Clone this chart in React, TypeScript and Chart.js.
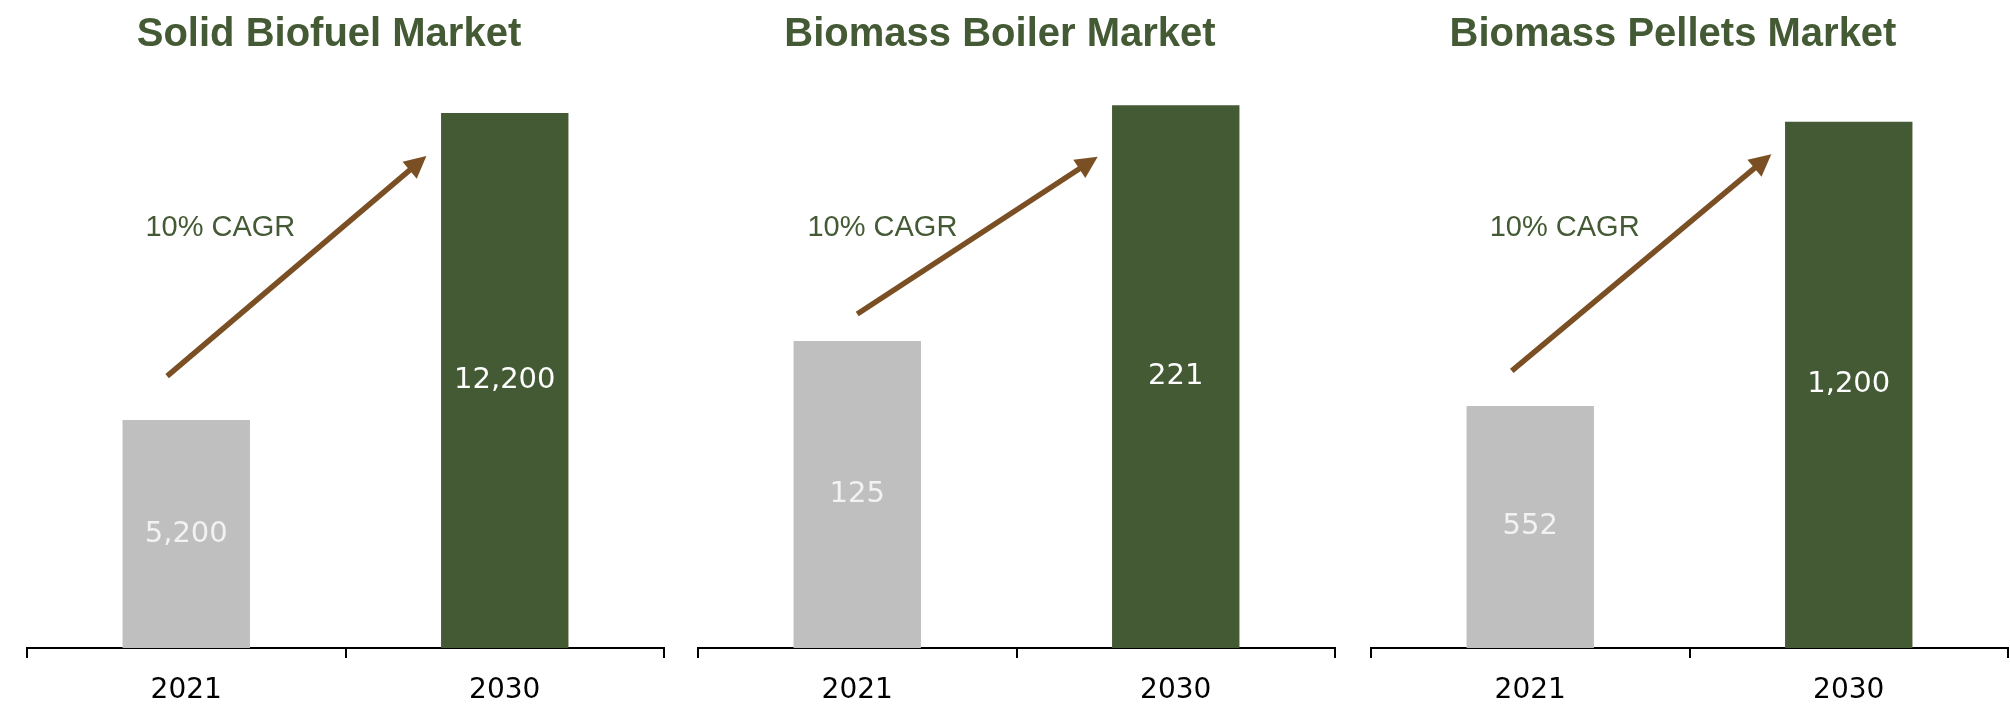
import React, { useEffect, useRef } from "react";
import { Chart, registerables } from "chart.js";

Chart.register(...registerables);

const categories = ["2021", "2030"];
const titles = ["Solid Biofuel Market", "Biomass Boiler Market", "Biomass Pellets Market"];
const values2021 = [5200, 125, 552];
const values2030 = [12200, 221, 1200];
const axisMax = [14000, 250, 1400];
const cagrLabels = ["10% CAGR", "10% CAGR", "10% CAGR"];
// annotation anchors in data coordinates: [category index offset, value]
const arrowTails = [[-0.06, 6200], [0.0, 136], [-0.058, 632]];
const arrowTips = [[0.754, 11218], [0.755, 200], [0.757, 1126]];
const cagrPos = [[0.107, 9570], [0.079, 171], [0.108, 957]];

const barColors = ["#bfbfbf", "#445a34"];
const labelColors = ["#f2f2f2", "#ffffff"];
const GREEN = "#445a34";
const BROWN = "#7b4f24";
const NUM_FONT = "'DejaVu Sans', sans-serif";

const panelLefts = [0, 671, 1344];
const CANVAS_W = 666;
const CANVAS_H = 705;

function fmt(v: number) {
  return v.toLocaleString("en-US");
}

function Panel({ idx }: { idx: number }) {
  const ref = useRef<HTMLCanvasElement | null>(null);
  useEffect(() => {
    if (!ref.current) return;
    const xAt = (chart: any, xi: number) => {
      const xs = chart.scales.x;
      const p0 = xs.getPixelForValue(0);
      const p1 = xs.getPixelForValue(1);
      return p0 + (p1 - p0) * xi;
    };
    const decor = {
      id: "decor",
      afterDatasetsDraw(chart: any) {
        const ctx = chart.ctx;
        const ys = chart.scales.y;
        ctx.save();
        // value labels
        const meta = chart.getDatasetMeta(0);
        meta.data.forEach((bar: any, i: number) => {
          const v = chart.data.datasets[0].data[i];
          ctx.fillStyle = labelColors[i];
          ctx.font = `29px ${NUM_FONT}`;
          ctx.textAlign = "center";
          ctx.textBaseline = "middle";
          ctx.fillText(fmt(v), bar.x, (bar.y + bar.base) / 2);
        });
        // title
        ctx.fillStyle = GREEN;
        ctx.font = "bold 40px 'Liberation Sans', Arial, sans-serif";
        ctx.textAlign = "center";
        ctx.textBaseline = "alphabetic";
        ctx.fillText(titles[idx], chart.chartArea.left + 302, 46);
        // CAGR text
        ctx.textBaseline = "middle";
        ctx.font = "29px 'Liberation Sans', Arial, sans-serif";
        ctx.fillText(cagrLabels[idx], xAt(chart, cagrPos[idx][0]), ys.getPixelForValue(cagrPos[idx][1]));
        // arrow
        const x0 = xAt(chart, arrowTails[idx][0]);
        const y0 = ys.getPixelForValue(arrowTails[idx][1]);
        const x1 = xAt(chart, arrowTips[idx][0]);
        const y1 = ys.getPixelForValue(arrowTips[idx][1]);
        const ang = Math.atan2(y1 - y0, x1 - x0);
        const headLen = 22;
        const headHalf = 11;
        const bx = x1 - headLen * Math.cos(ang);
        const by = y1 - headLen * Math.sin(ang);
        ctx.strokeStyle = BROWN;
        ctx.lineWidth = 5.5;
        ctx.lineCap = "butt";
        ctx.beginPath();
        ctx.moveTo(x0, y0);
        ctx.lineTo(bx + 2 * Math.cos(ang), by + 2 * Math.sin(ang));
        ctx.stroke();
        ctx.fillStyle = BROWN;
        ctx.beginPath();
        ctx.moveTo(x1, y1);
        ctx.lineTo(bx + headHalf * Math.sin(ang), by - headHalf * Math.cos(ang));
        ctx.lineTo(bx - headHalf * Math.sin(ang), by + headHalf * Math.cos(ang));
        ctx.closePath();
        ctx.fill();
        ctx.restore();
      },
    };
    const chart = new Chart(ref.current, {
      type: "bar",
      data: {
        labels: categories,
        datasets: [
          {
            data: [values2021[idx], values2030[idx]],
            backgroundColor: barColors,
            borderWidth: 0,
            categoryPercentage: 0.8,
            barPercentage: 0.5,
          },
        ],
      },
      options: {
        responsive: false,
        animation: false,
        events: [],
        layout: { padding: { left: 27, right: 2, top: 34, bottom: 0 } },
        plugins: { legend: { display: false }, tooltip: { enabled: false }, title: { display: false } },
        scales: {
          x: {
            offset: true,
            afterFit: (scale: any) => {
              scale.height = 57;
            },
            grid: {
              display: true,
              offset: true,
              drawOnChartArea: false,
              drawTicks: true,
              tickLength: 10,
              color: "#000000",
              lineWidth: 2,
            },
            border: { display: true, color: "#000000", width: 2 },
            ticks: {
              color: "#000000",
              font: { family: NUM_FONT, size: 28 },
              padding: 16,
              maxRotation: 0,
            },
          },
          y: {
            display: false,
            min: 0,
            max: axisMax[idx],
          },
        },
      },
      plugins: [decor],
    });
    return () => chart.destroy();
  }, [idx]);
  return (
    <canvas
      ref={ref}
      width={CANVAS_W}
      height={CANVAS_H}
      style={{ position: "absolute", left: panelLefts[idx], top: 0, width: CANVAS_W, height: CANVAS_H }}
    />
  );
}

export default function App() {
  return (
    <div
      style={{
        position: "absolute",
        left: 0,
        top: 0,
        width: 2010,
        height: 705,
        overflow: "hidden",
        background: "#ffffff",
      }}
    >
      {titles.map((_, i) => (
        <Panel key={i} idx={i} />
      ))}
    </div>
  );
}
